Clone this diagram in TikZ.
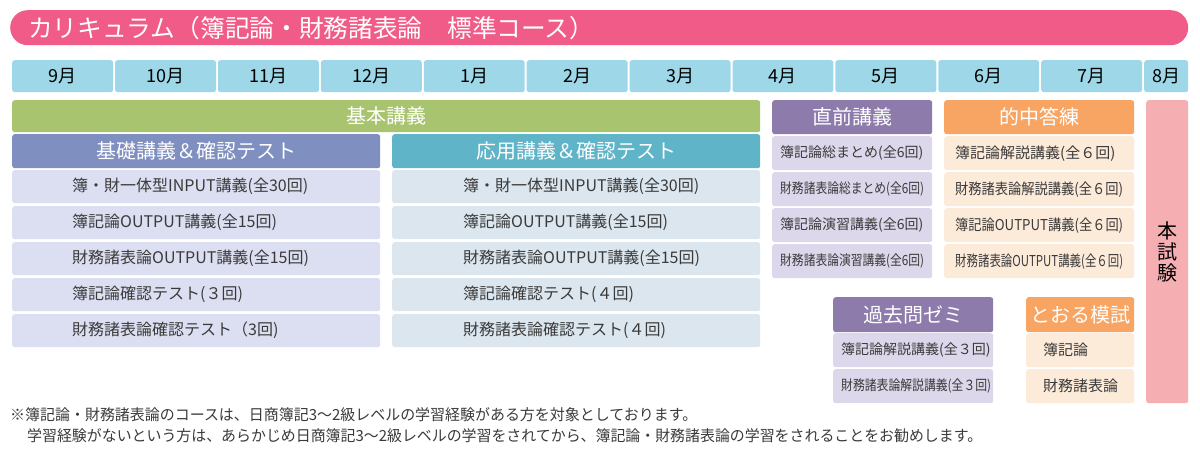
\documentclass[tikz,border=0pt]{standalone}
\usepackage{fontspec}
\setmainfont{Noto Sans CJK JP}
\usepackage{graphicx}
\usetikzlibrary{positioning}

\definecolor{titlepink}{HTML}{F05B88}
\definecolor{monthblue}{HTML}{9DD7E8}
\definecolor{basegreen}{HTML}{A8C46E}
\definecolor{kisohead}{HTML}{7F8FC0}
\definecolor{kisoitem}{HTML}{DCDFF1}
\definecolor{oyohead}{HTML}{5FB4C8}
\definecolor{oyoitem}{HTML}{DBE6EE}
\definecolor{chokuhead}{HTML}{8D7BAB}
\definecolor{chokuitem}{HTML}{DCD7EA}
\definecolor{tekihead}{HTML}{F8A564}
\definecolor{tekiitem}{HTML}{FDEBDA}
\definecolor{honpink}{HTML}{F5AEB2}
\definecolor{itemtext}{HTML}{3A3A3A}

% squeeze a text to a width, only if it is wider
\newsavebox\fitbox
\newlength\fitht
\newcommand{\fitw}[2]{\sbox\fitbox{#2}\setlength\fitht{\ht\fitbox}%
  \ifdim\wd\fitbox>#1\relax\resizebox{#1}{\fitht}{\usebox\fitbox}\else\usebox\fitbox\fi}

\tikzset{
  box/.style={rectangle, rounded corners=2.5pt, inner sep=0pt, anchor=north west},
  head/.style={box, text=white, font=\fontsize{20}{20}\selectfont},
  month/.style={box, fill=monthblue, minimum height=32pt, font=\fontsize{18}{18}\selectfont},
  itemtxt/.style={anchor=west, inner sep=0pt, text=itemtext},
}

\begin{document}
\begin{tikzpicture}[x=1pt,y=-1pt]
  \useasboundingbox (0,0) rectangle (1200,462);
  % title
  \node[box, fill=titlepink, rounded corners=17.5pt, minimum width=1178pt, minimum height=35pt] (title) at (10,10) {};
  \node[anchor=west, inner sep=0pt, text=white, font=\fontsize{24.7}{25}\selectfont] (titletxt) at ([xshift=18pt]title.west) {カリキュラム（簿記論・財務諸表論　標準コース）};
  % months
  \foreach \m [count=\i from 0] in {9,10,11,12,1,2,3,4,5,6,7}
    \node[month, minimum width=100.9pt] (m\m) at (12+\i*102.9,60) {\m 月};
  \node[month, minimum width=44pt] (m8) at (1144,60) {8月};
  % basic lectures
  \node[head, fill=basegreen, minimum width=748pt, minimum height=32pt] (kihon) at (12,100) {基本講義};
  \node[head, fill=kisohead, minimum width=368pt, minimum height=34pt] (kiso) at (12,134) {基礎講義＆確認テスト};
  \node[head, fill=oyohead, minimum width=368pt, minimum height=34pt] (oyo) at (392,134) {応用講義＆確認テスト};
  \foreach \t [count=\i] in {簿・財一体型INPUT講義(全30回), 簿記論OUTPUT講義(全15回), 財務諸表論OUTPUT講義(全15回), 簿記論確認テスト(３回), 財務諸表論確認テスト（3回)}{
    \node[box, fill=kisoitem, minimum width=368pt, minimum height=33pt] (kiso\i) at (12,134+\i*36) {};
    \node[itemtxt, font=\fontsize{16}{16}\selectfont] (kisotxt\i) at ([xshift=60pt]kiso\i.west) {\t};
  }
  \foreach \t [count=\i] in {簿・財一体型INPUT講義(全30回), 簿記論OUTPUT講義(全15回), 財務諸表論OUTPUT講義(全15回), 簿記論確認テスト(４回), 財務諸表論確認テスト(４回)}{
    \node[box, fill=oyoitem, minimum width=368pt, minimum height=33pt] (oyo\i) at (392,134+\i*36) {};
    \node[itemtxt, font=\fontsize{16}{16}\selectfont] (oyotxt\i) at ([xshift=71pt]oyo\i.west) {\t};
  }
  % final lectures
  \node[head, fill=chokuhead, minimum width=160pt, minimum height=34pt] (choku) at (772,100) {直前講義};
  \foreach \t [count=\i] in {簿記論総まとめ(全6回), 財務諸表論総まとめ(全6回), 簿記論演習講義(全6回), 財務諸表論演習講義(全6回)}{
    \node[box, fill=chokuitem, minimum width=160pt, minimum height=34pt] (choku\i) at (772,100+\i*36) {};
    \node[itemtxt, font=\fontsize{14}{14}\selectfont] (chokutxt\i) at ([xshift=8pt]choku\i.west) {\fitw{144pt}{\t}};
  }
  \node[head, fill=tekihead, minimum width=190pt, minimum height=34pt] (teki) at (944,100) {的中答練};
  \foreach \t [count=\i] in {簿記論解説講義(全６回), 財務諸表論解説講義(全６回), 簿記論OUTPUT講義(全６回), 財務諸表論OUTPUT講義(全６回)}{
    \node[box, fill=tekiitem, minimum width=190pt, minimum height=34pt] (teki\i) at (944,100+\i*36) {};
    \node[itemtxt, font=\fontsize{15}{15}\selectfont] (tekitxt\i) at ([xshift=11pt]teki\i.west) {\fitw{168pt}{\t}};
  }
  % past exams and mock exam
  \node[head, fill=chokuhead, minimum width=160pt, minimum height=35pt] (kako) at (833,297) {過去問ゼミ};
  \foreach \t [count=\i] in {簿記論解説講義(全３回), 財務諸表論解説講義(全３回)}{
    \node[box, fill=chokuitem, minimum width=160pt, minimum height=34pt] (kako\i) at (833,297+\i*36) {};
    \node[itemtxt, font=\fontsize{14}{14}\selectfont] (kakotxt\i) at ([xshift=8pt]kako\i.west) {\fitw{150pt}{\t}};
  }
  \node[head, fill=tekihead, minimum width=108pt, minimum height=35pt] (moshi) at (1026,297) {とおる模試};
  \foreach \t [count=\i] in {簿記論, 財務諸表論}{
    \node[box, fill=tekiitem, minimum width=108pt, minimum height=34pt] (moshi\i) at (1026,297+\i*36) {};
    \node[itemtxt, font=\fontsize{15}{15}\selectfont] (moshitxt\i) at ([xshift=17pt]moshi\i.west) {\t};
  }
  % exam
  \node[box, fill=honpink, minimum width=42pt, minimum height=303pt, align=center, font=\fontsize{20}{21}\selectfont] (honshiken) at (1146,100) {本\\試\\験};
  % note
  \node[itemtxt, font=\fontsize{15.3}{15.3}\selectfont] (note1) at (10,415) {\fitw{687pt}{※簿記論・財務諸表論のコースは、日商簿記3～2級レベルの学習経験がある方を対象としております。}};
  \node[itemtxt, font=\fontsize{15.3}{15.3}\selectfont] (note2) at (27,436) {\fitw{955pt}{学習経験がないという方は、あらかじめ日商簿記3～2級レベルの学習をされてから、簿記論・財務諸表論の学習をされることをお勧めします。}};
\end{tikzpicture}
\end{document}
